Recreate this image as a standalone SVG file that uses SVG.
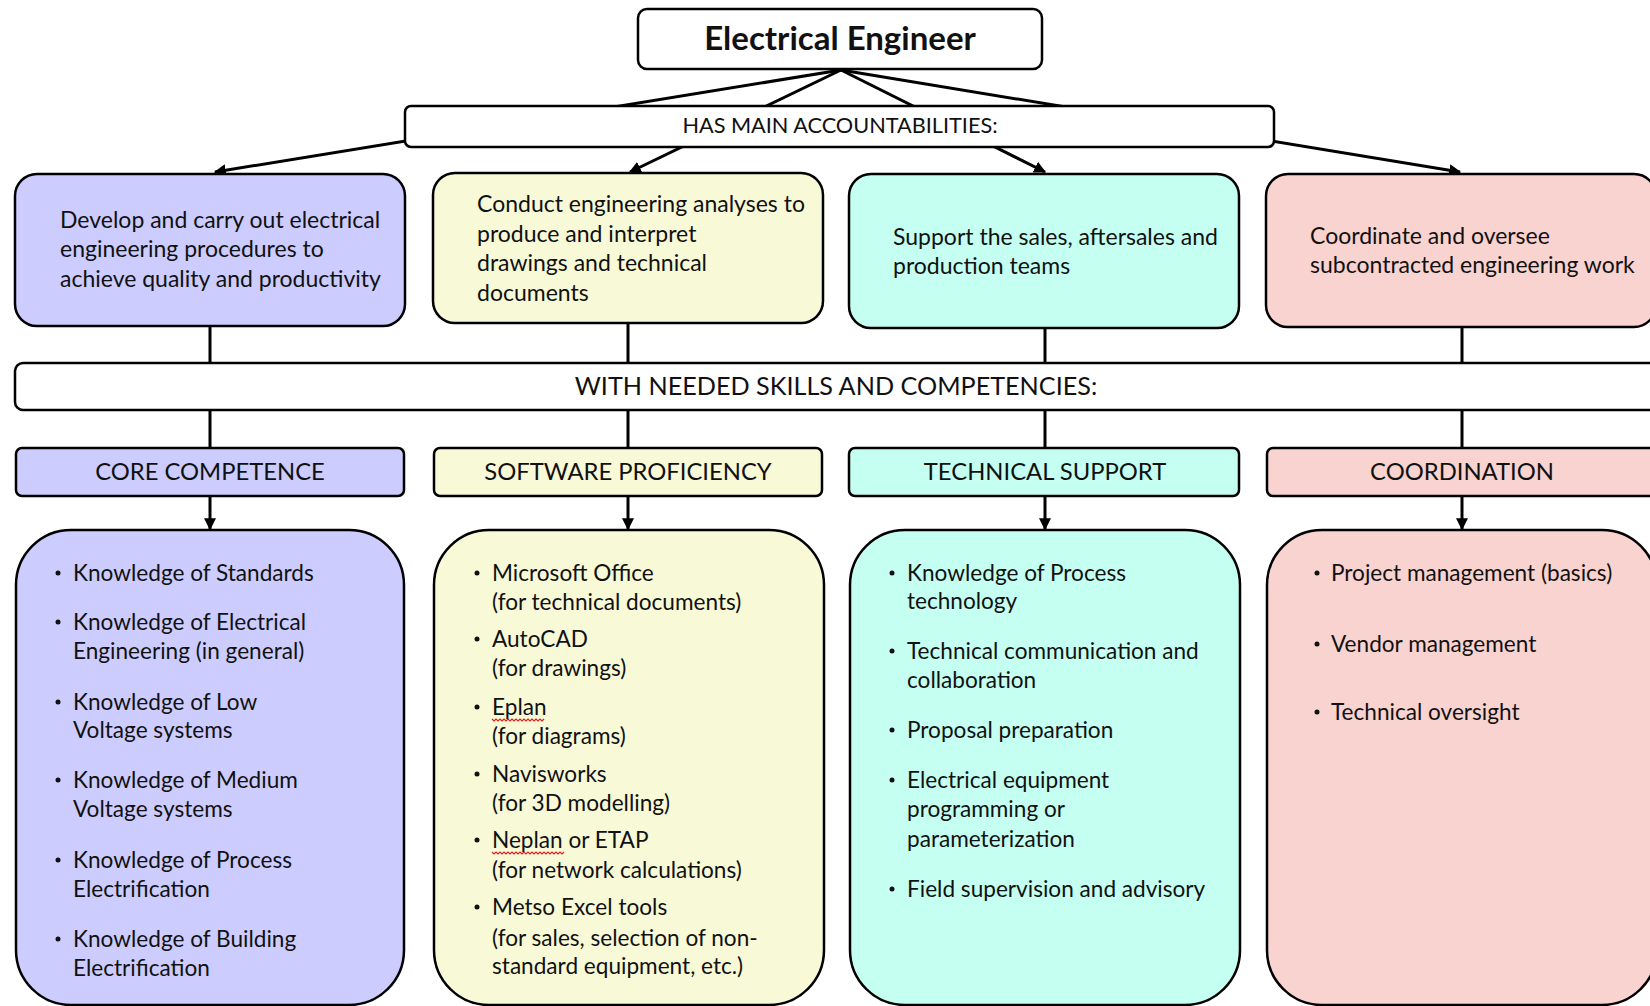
<svg xmlns="http://www.w3.org/2000/svg" width="1650" height="1006" viewBox="0 0 1650 1006">
  <style>
    .box { stroke: #000; stroke-width: 2.5; }
    .white { fill: #fff; }
    .c1 { fill: #ccccff; }
    .c2 { fill: #f8f9d7; }
    .c3 { fill: #c4fff1; }
    .c4 { fill: #f9d3cf; }
    .link { stroke: #000; stroke-width: 3; fill: none; }
    .dot { fill: #111; }
    text { font-family: Lato, "Liberation Sans", sans-serif; fill: #111; }
    .title { font-size: 33px; font-weight: bold; text-anchor: middle; }
    .band { font-size: 21.7px; text-anchor: middle; }
    .band2 { font-size: 25.2px; text-anchor: middle; }
    .cat { font-size: 23.8px; text-anchor: middle; }
    .acc { font-size: 23px; }
    .body { font-size: 22.6px; }
    .spell { stroke: #e02020; stroke-width: 1.2; fill: none; }
  </style>
  <defs>
    <marker id="arrow" viewBox="0 0 10 10" refX="9" refY="5" markerWidth="4" markerHeight="4" orient="auto" markerUnits="strokeWidth">
      <path d="M0,0 L10,5 L0,10 z" fill="#000"/>
    </marker>
  </defs>

  <rect width="1650" height="1006" fill="#fff"/>

  <!-- connectors -->
  <g id="connectors">
    <line class="link" x1="841" y1="70" x2="215" y2="172" marker-end="url(#arrow)"/>
    <line class="link" x1="841" y1="70" x2="630" y2="172" marker-end="url(#arrow)"/>
    <line class="link" x1="841" y1="70" x2="1045" y2="172" marker-end="url(#arrow)"/>
    <line class="link" x1="841" y1="70" x2="1460" y2="172" marker-end="url(#arrow)"/>
    <line class="link" x1="210" y1="326" x2="210" y2="363"/>
    <line class="link" x1="628" y1="323" x2="628" y2="363"/>
    <line class="link" x1="1045" y1="328" x2="1045" y2="363"/>
    <line class="link" x1="1462" y1="327" x2="1462" y2="363"/>
    <line class="link" x1="210" y1="410" x2="210" y2="448"/>
    <line class="link" x1="628" y1="410" x2="628" y2="448"/>
    <line class="link" x1="1045" y1="410" x2="1045" y2="448"/>
    <line class="link" x1="1462" y1="410" x2="1462" y2="448"/>
    <line class="link" x1="210" y1="496" x2="210" y2="529" marker-end="url(#arrow)"/>
    <line class="link" x1="628" y1="496" x2="628" y2="529" marker-end="url(#arrow)"/>
    <line class="link" x1="1045" y1="496" x2="1045" y2="529" marker-end="url(#arrow)"/>
    <line class="link" x1="1462" y1="496" x2="1462" y2="529" marker-end="url(#arrow)"/>
  </g>

  <!-- root -->
  <g id="root">
    <rect class="box white" x="638" y="9" width="404" height="60" rx="9"/>
    <text class="title" x="840" y="50">Electrical Engineer</text>
  </g>

  <g id="accountabilities-band">
    <rect class="box white" x="405" y="106" width="869" height="41" rx="6"/>
    <text class="band" x="840" y="133">HAS MAIN ACCOUNTABILITIES:</text>
  </g>

  <!-- accountabilities -->
  <g id="acc-procedures">
    <rect class="box c1" x="15" y="174" width="390" height="152" rx="22"/>
    <text class="acc"><tspan x="60" y="228">Develop and carry out electrical</tspan><tspan x="60" y="257">engineering procedures to</tspan><tspan x="60" y="287">achieve quality and productivity</tspan></text>
  </g>
  <g id="acc-analyses">
    <rect class="box c2" x="433" y="173" width="390" height="150" rx="22"/>
    <text class="acc"><tspan x="477" y="212">Conduct engineering analyses to</tspan><tspan x="477" y="242">produce and interpret</tspan><tspan x="477" y="271">drawings and technical</tspan><tspan x="477" y="301">documents</tspan></text>
  </g>
  <g id="acc-support">
    <rect class="box c3" x="849" y="174" width="390" height="154" rx="22"/>
    <text class="acc"><tspan x="893" y="245">Support the sales, aftersales and</tspan><tspan x="893" y="274">production teams</tspan></text>
  </g>
  <g id="acc-coordinate">
    <rect class="box c4" x="1266" y="174" width="390" height="153" rx="22"/>
    <text class="acc"><tspan x="1310" y="244">Coordinate and oversee</tspan><tspan x="1310" y="273">subcontracted engineering work</tspan></text>
  </g>

  <g id="skills-band">
    <rect class="box white" x="15" y="363" width="1645" height="47" rx="8"/>
    <text class="band2" x="836" y="395">WITH NEEDED SKILLS AND COMPETENCIES:</text>
  </g>

  <!-- categories -->
  <g id="cat-core">
    <rect class="box c1" x="16" y="448" width="388" height="48" rx="6"/>
    <text class="cat" x="210" y="480">CORE COMPETENCE</text>
  </g>
  <g id="cat-software">
    <rect class="box c2" x="434" y="448" width="388" height="48" rx="6"/>
    <text class="cat" x="628" y="480">SOFTWARE PROFICIENCY</text>
  </g>
  <g id="cat-technical">
    <rect class="box c3" x="849" y="448" width="390" height="48" rx="6"/>
    <text class="cat" x="1045" y="480">TECHNICAL SUPPORT</text>
  </g>
  <g id="cat-coordination">
    <rect class="box c4" x="1267" y="448" width="390" height="48" rx="6"/>
    <text class="cat" x="1462" y="480">COORDINATION</text>
  </g>

  <!-- skill lists -->
  <g id="list-core">
    <rect class="box c1" x="16" y="530" width="388" height="475" rx="55"/>
    <g class="dot">
      <circle cx="58" cy="573" r="2.5"/><circle cx="58" cy="622" r="2.5"/><circle cx="58" cy="702" r="2.5"/>
      <circle cx="58" cy="780" r="2.5"/><circle cx="58" cy="860" r="2.5"/><circle cx="58" cy="939" r="2.5"/>
    </g>
    <text class="body">
      <tspan x="73" y="581">Knowledge of Standards</tspan>
      <tspan x="73" y="630">Knowledge of Electrical</tspan>
      <tspan x="73" y="659">Engineering (in general)</tspan>
      <tspan x="73" y="710">Knowledge of Low</tspan>
      <tspan x="73" y="738">Voltage systems</tspan>
      <tspan x="73" y="788">Knowledge of Medium</tspan>
      <tspan x="73" y="817">Voltage systems</tspan>
      <tspan x="73" y="868">Knowledge of Process</tspan>
      <tspan x="73" y="897">Electrification</tspan>
      <tspan x="73" y="947">Knowledge of Building</tspan>
      <tspan x="73" y="976">Electrification</tspan>
    </text>
  </g>
  <g id="list-software">
    <rect class="box c2" x="434" y="530" width="390" height="475" rx="55"/>
    <g class="dot">
      <circle cx="477" cy="573" r="2.5"/><circle cx="477" cy="639" r="2.5"/><circle cx="477" cy="707" r="2.5"/>
      <circle cx="477" cy="774" r="2.5"/><circle cx="477" cy="840" r="2.5"/><circle cx="477" cy="907" r="2.5"/>
    </g>
    <text class="body">
      <tspan x="492" y="581">Microsoft Office</tspan>
      <tspan x="492" y="610">(for technical documents)</tspan>
      <tspan x="492" y="647">AutoCAD</tspan>
      <tspan x="492" y="676">(for drawings)</tspan>
      <tspan x="492" y="715">Eplan</tspan>
      <tspan x="492" y="744">(for diagrams)</tspan>
      <tspan x="492" y="782">Navisworks</tspan>
      <tspan x="492" y="811">(for 3D modelling)</tspan>
      <tspan x="492" y="848">Neplan or ETAP</tspan>
      <tspan x="492" y="878">(for network calculations)</tspan>
      <tspan x="492" y="915">Metso Excel tools</tspan>
      <tspan x="492" y="946">(for sales, selection of non-</tspan>
      <tspan x="492" y="974">standard equipment, etc.)</tspan>
    </text>
    <path class="spell" d="M492,719 l2,2 l2,-2 l2,2 l2,-2 l2,2 l2,-2 l2,2 l2,-2 l2,2 l2,-2 l2,2 l2,-2 l2,2 l2,-2 l2,2 l2,-2 l2,2 l2,-2 l2,2 l2,-2 l2,2 l2,-2 l2,2 l2,-2 l2,2 l2,-2"/>
    <path class="spell" d="M492,852 l2,2 l2,-2 l2,2 l2,-2 l2,2 l2,-2 l2,2 l2,-2 l2,2 l2,-2 l2,2 l2,-2 l2,2 l2,-2 l2,2 l2,-2 l2,2 l2,-2 l2,2 l2,-2 l2,2 l2,-2 l2,2 l2,-2 l2,2 l2,-2 l2,2 l2,-2 l2,2 l2,-2 l2,2 l2,-2 l2,2 l2,-2 l2,2 l2,-2"/>
  </g>
  <g id="list-technical">
    <rect class="box c3" x="850" y="530" width="390" height="475" rx="55"/>
    <g class="dot">
      <circle cx="892" cy="573" r="2.5"/><circle cx="892" cy="651" r="2.5"/><circle cx="892" cy="730" r="2.5"/>
      <circle cx="892" cy="780" r="2.5"/><circle cx="892" cy="889" r="2.5"/>
    </g>
    <text class="body">
      <tspan x="907" y="581">Knowledge of Process</tspan>
      <tspan x="907" y="609">technology</tspan>
      <tspan x="907" y="659">Technical communication and</tspan>
      <tspan x="907" y="688">collaboration</tspan>
      <tspan x="907" y="738">Proposal preparation</tspan>
      <tspan x="907" y="788">Electrical equipment</tspan>
      <tspan x="907" y="817">programming or</tspan>
      <tspan x="907" y="847">parameterization</tspan>
      <tspan x="907" y="897">Field supervision and advisory</tspan>
    </text>
  </g>
  <g id="list-coordination">
    <rect class="box c4" x="1267" y="530" width="390" height="475" rx="55"/>
    <g class="dot">
      <circle cx="1317" cy="573" r="2.5"/><circle cx="1317" cy="644" r="2.5"/><circle cx="1317" cy="712" r="2.5"/>
    </g>
    <text class="body">
      <tspan x="1331" y="581">Project management (basics)</tspan>
      <tspan x="1331" y="652">Vendor management</tspan>
      <tspan x="1331" y="720">Technical oversight</tspan>
    </text>
  </g>
</svg>
